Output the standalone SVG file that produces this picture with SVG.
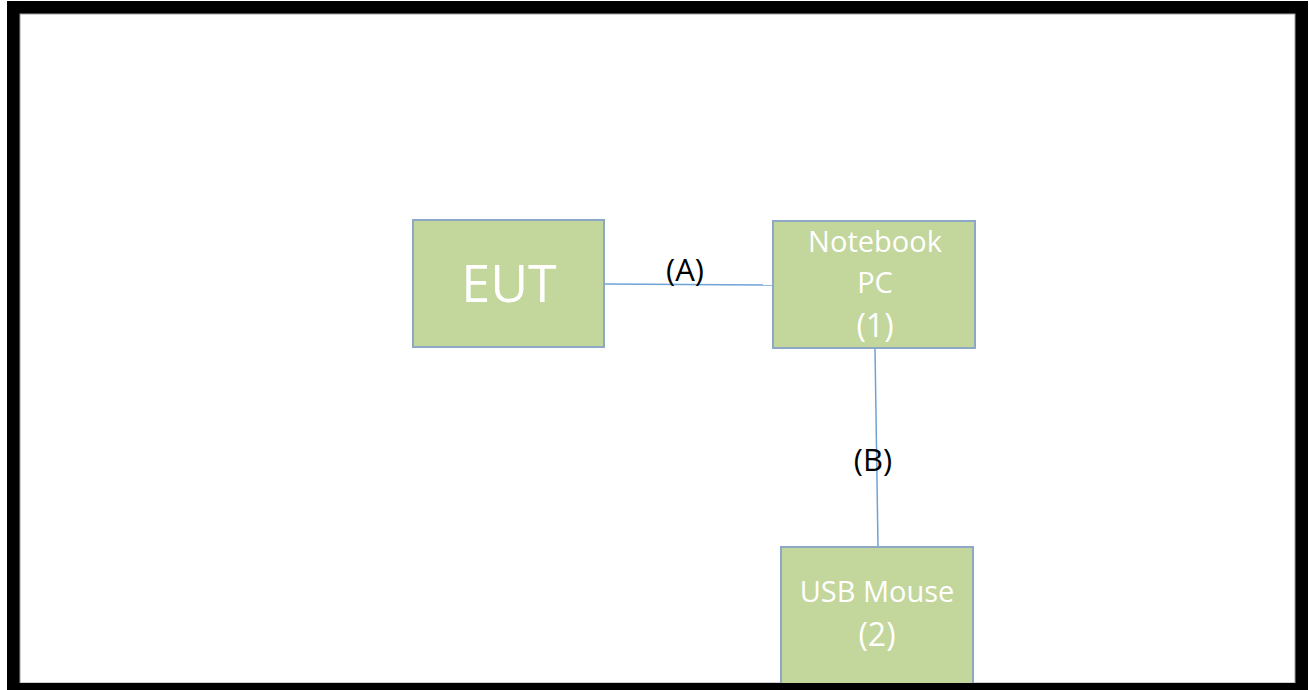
<svg xmlns="http://www.w3.org/2000/svg" width="1309" height="690" viewBox="0 0 1309 690">
<style>
.box{fill:#C3D69B;stroke:#8DA8C4;stroke-width:2}
.wt{fill:#FFFFFF;font-family:"Open Sans","Liberation Sans",sans-serif;text-anchor:middle}
.lbl{fill:#000000;font-family:"Open Sans","Liberation Sans",sans-serif;font-size:31px;text-anchor:middle}
.conn{stroke:#6FA3D8;stroke-width:1.5;fill:none}
</style>
<rect x="0" y="0" width="1309" height="690" fill="#FFFFFF"/>
<rect x="7" y="1" width="1301" height="692" fill="#000000"/>
<rect x="20" y="14" width="1275" height="669" fill="#FFFFFF" stroke="#A0A0A0" stroke-width="1"/>
<g id="connectors">
<line class="conn" x1="604" y1="284" x2="773" y2="285"/>
<line class="conn" x1="875" y1="348" x2="878" y2="547"/>
<text class="lbl" x="685" y="281">(A)</text>
<text class="lbl" x="873" y="471">(B)</text>
</g>
<g id="eut">
<rect class="box" x="413" y="220" width="191" height="127"/>
<text class="wt" x="509" y="302" font-size="52">EUT</text>
</g>
<g id="notebook">
<rect class="box" x="773" y="221" width="202" height="127"/>
<text class="wt" x="875" y="252" font-size="29">Notebook</text>
<text class="wt" x="875" y="293" font-size="29">PC</text>
<text class="wt" x="875" y="337" font-size="32">(1)</text>
</g>
<g id="mouse">
<rect class="box" x="781" y="547" width="192" height="145"/>
<text class="wt" x="877" y="602" font-size="29">USB Mouse</text>
<text class="wt" x="877" y="646" font-size="32">(2)</text>
</g>
<rect x="7" y="683" width="1301" height="10" fill="#000000"/>
</svg>
